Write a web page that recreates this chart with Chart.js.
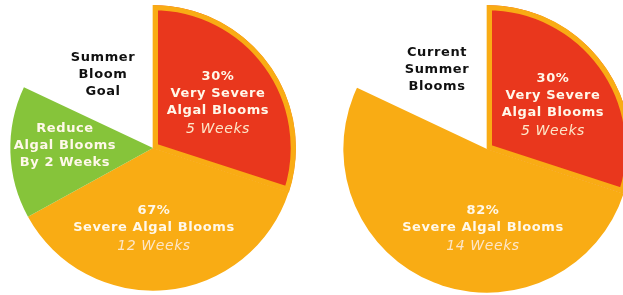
<!DOCTYPE html>
<html>
<head>
<meta charset="utf-8">
<script src="https://cdn.jsdelivr.net/npm/chart.js@4"></script>
<style>
  html, body { margin: 0; padding: 0; background: #fff; width: 623px; height: 295px; overflow: hidden; }
  canvas { position: absolute; }
</style>
</head>
<body>
<canvas id="goalPie" width="300" height="300" style="left:3px;top:-2px"></canvas>
<canvas id="currentPie" width="300" height="300" style="left:337px;top:-1px"></canvas>
<script>
// slice shares, percent of the summer, clockwise from 12 o'clock
var goalCategories = ['Very Severe Algal Blooms', 'Severe Algal Blooms', 'Reduce Algal Blooms', 'Summer Bloom Goal'];
var goalValues = [30, 37, 15, 18];
var currentCategories = ['Very Severe Algal Blooms', 'Severe Algal Blooms', 'Current Summer Blooms'];
var currentValues = [30, 52, 18];

var RED = '#e9371d';
var ORANGE = '#f9ac14';
var GREEN = '#86c43a';

// text shown on each slice: [bold lines, light line]
var goalLabels = [
  [['30%', 'Very Severe', 'Algal Blooms'], '5 Weeks'],
  [['67%', 'Severe Algal Blooms'], '12 Weeks'],
  [['Reduce', 'Algal Blooms', 'By 2 Weeks'], null],
  [['Summer', 'Bloom', 'Goal'], null]
];
var currentLabels = [
  [['30%', 'Very Severe', 'Algal Blooms'], '5 Weeks'],
  [['82%', 'Severe Algal Blooms'], '14 Weeks'],
  [['Current', 'Summer', 'Blooms'], null]
];

// where each block starts, relative to the pie centre
var goalSpots = [[65, -71], [1, 63], [-88, -19], [-50, -90]];
var currentSpots = [[66, -70], [-4, 62], [-50, -96]];

var sliceText = {
  id: 'sliceText',
  afterDatasetsDraw: function(chart, args, opts) {
    var ctx = chart.ctx;
    var arc = chart.getDatasetMeta(0).data[0];
    ctx.save();
    ctx.textAlign = 'center';
    ctx.textBaseline = 'middle';
    ctx.letterSpacing = '0.6px';
    opts.labels.forEach(function(lab, i) {
      var x = arc.x + opts.spots[i][0];
      var y = arc.y + opts.spots[i][1];
      var dark = i === opts.labels.length - 1;
      ctx.fillStyle = dark ? '#111' : '#fff8ea';
      ctx.font = 'bold 13px "DejaVu Sans"';
      lab[0].forEach(function(line, j) {
        ctx.fillText(line, x, y + j * 17);
      });
      if (lab[1]) {
        ctx.font = 'oblique 14px "DejaVu Sans"';
        ctx.fillStyle = '#fde6c8';
        ctx.fillText(lab[1], x, y + lab[0].length * 17 + 1);
      }
    });
    ctx.restore();
  }
};

function drawPie(id, cats, values, colors, borders, labels, spots, radius) {
  new Chart(document.getElementById(id), {
    type: 'pie',
    data: {
      labels: cats,
      datasets: [{
        data: values,
        backgroundColor: colors,
        borderColor: ORANGE,
        borderWidth: borders,
        borderAlign: 'inner',
        hoverOffset: 0
      }]
    },
    options: {
      responsive: false,
      animation: false,
      events: [],
      radius: radius,
      layout: { padding: 0 },
      plugins: {
        legend: { display: false },
        tooltip: { enabled: false },
        sliceText: { labels: labels, spots: spots }
      }
    },
    plugins: [sliceText]
  });
}

drawPie('goalPie', goalCategories, goalValues, [RED, ORANGE, GREEN, 'rgba(0,0,0,0)'],
  [5, 0, 0, 0], goalLabels, goalSpots, 143);
drawPie('currentPie', currentCategories, currentValues, [RED, ORANGE, 'rgba(0,0,0,0)'],
  [5, 0, 0], currentLabels, currentSpots, 144);
</script>
</body>
</html>
